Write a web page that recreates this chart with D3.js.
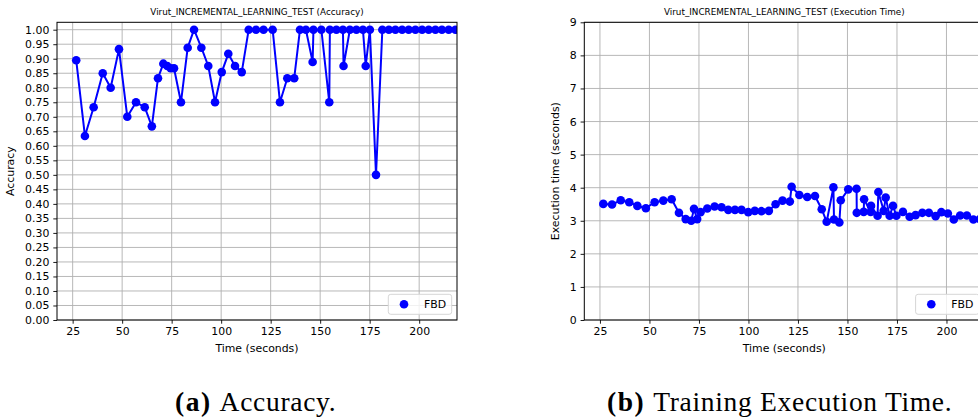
<!DOCTYPE html>
<html>
<head>
<meta charset="utf-8">
<script src="https://cdn.jsdelivr.net/npm/d3@7"></script>
<style>
  body { margin: 0; background: #fff; }
  svg { display: block; }
</style>
</head>
<body>
<svg id="fig" width="978" height="419"></svg>
<script>
// ---- data ----
const accTime = [26.8, 31.2, 35.6, 40.2, 44.2, 48.4, 52.6, 57.0, 61.4, 65.0,
  68.1, 70.8, 72.8, 74.5, 76.2, 79.7, 83.1, 86.3, 90.0, 93.5,
  96.9, 100.3, 103.6, 107.0, 110.4, 113.9, 117.6, 121.4, 126.0, 129.7,
  133.4, 136.9, 139.8, 142.8, 146.2, 146.6, 150.6, 154.6, 154.9, 158.2,
  161.5, 161.8, 165.0, 168.3, 171.6, 173.0, 175.1, 178.2, 181.4, 184.7,
  188.0, 191.4, 194.7, 198.1, 201.5, 204.8, 208.2, 211.5, 214.9, 218.3, 221.6];
const accValue = [0.895, 0.634, 0.733, 0.850, 0.800, 0.933, 0.700, 0.750, 0.733, 0.667,
  0.833, 0.883, 0.875, 0.867, 0.867, 0.750, 0.938, 1.000, 0.938, 0.875,
  0.750, 0.854, 0.917, 0.875, 0.854, 1.000, 1.000, 1.000, 1.000, 0.750,
  0.833, 0.833, 1.000, 1.000, 0.889, 1.000, 1.000, 0.750, 1.000, 1.000,
  1.000, 0.875, 1.000, 1.000, 1.000, 0.875, 1.000, 0.500, 1.000, 1.000,
  1.000, 1.000, 1.000, 1.000, 1.000, 1.000, 1.000, 1.000, 1.000, 1.000, 1.000];

const execTime = [26.7, 31.1, 35.5, 39.8, 43.9, 48.2, 52.6, 57.0, 61.2, 64.9,
  68.3, 71.1, 72.5, 74.1, 75.8, 79.2, 82.9, 86.4, 89.8, 93.2,
  96.5, 99.9, 103.2, 106.6, 110.3, 113.7, 117.2, 120.9, 121.8, 125.7,
  129.7, 133.6, 137.0, 139.5, 142.9, 143.2, 145.9, 146.6, 150.4, 154.6,
  154.7, 158.2, 158.4, 161.7, 161.9, 165.2, 165.6, 168.3, 169.3, 171.3,
  173.0, 174.7, 178.0, 181.4, 184.4, 187.8, 191.1, 194.5, 197.4, 200.7,
  203.7, 206.9, 210.3, 213.6, 216.9, 220.0];
const execValue = [3.51, 3.49, 3.62, 3.56, 3.45, 3.38, 3.56, 3.61, 3.65, 3.24,
  3.05, 3.00, 3.36, 3.05, 3.26, 3.37, 3.43, 3.41, 3.33, 3.33,
  3.33, 3.26, 3.30, 3.29, 3.30, 3.50, 3.61, 3.58, 4.03, 3.78,
  3.72, 3.75, 3.35, 2.97, 4.01, 3.04, 2.95, 3.62, 3.95, 3.97,
  3.24, 3.27, 3.65, 3.27, 3.45, 3.15, 3.87, 3.30, 3.70, 3.15,
  3.45, 3.15, 3.27, 3.12, 3.17, 3.24, 3.24, 3.14, 3.26, 3.22,
  3.04, 3.16, 3.16, 3.04, 3.05, 3.10];

const timeTicks = [25, 50, 75, 100, 125, 150, 175, 200];
const accTicks = [0.00, 0.05, 0.10, 0.15, 0.20, 0.25, 0.30, 0.35, 0.40, 0.45, 0.50,
  0.55, 0.60, 0.65, 0.70, 0.75, 0.80, 0.85, 0.90, 0.95, 1.00];
const execTicks = [0, 1, 2, 3, 4, 5, 6, 7, 8, 9];

const seriesName = "FBD";
const FONT = "'DejaVu Sans', sans-serif";
const BLUE = "#0000ff";

const svg = d3.select("#fig");

function panel(opts) {
  const { id, left, top, width, height, xDomain, yDomain, yTicks, yFormat,
          title, yLabel, times, values } = opts;
  const g = svg.append("g").attr("transform", `translate(${left},${top})`);

  const x = d3.scaleLinear().domain(xDomain).range([0, width]);
  const y = d3.scaleLinear().domain(yDomain).range([height, 0]);

  // grid
  g.append("g").selectAll("line").data(timeTicks).join("line")
    .attr("x1", d => x(d)).attr("x2", d => x(d))
    .attr("y1", 0).attr("y2", height)
    .attr("stroke", "#b0b0b0").attr("stroke-width", 0.9);
  g.append("g").selectAll("line").data(yTicks).join("line")
    .attr("x1", 0).attr("x2", width)
    .attr("y1", d => y(d)).attr("y2", d => y(d))
    .attr("stroke", "#b0b0b0").attr("stroke-width", 0.9);

  // axes
  const xAxis = g.append("g").attr("transform", `translate(0,${height})`)
    .call(d3.axisBottom(x).tickValues(timeTicks).tickSize(3.7).tickPadding(4).tickSizeOuter(0));
  const yAxis = g.append("g")
    .call(d3.axisLeft(y).tickValues(yTicks).tickFormat(yFormat).tickSize(3.7).tickPadding(4).tickSizeOuter(0));
  [xAxis, yAxis].forEach(a => {
    a.select(".domain").remove();
    a.selectAll("line").attr("stroke", "#000").attr("stroke-width", 0.9);
    a.selectAll("text").attr("font-family", FONT).attr("font-size", 10.9).attr("fill", "#000");
  });

  // data, clipped to the plotting area
  g.append("clipPath").attr("id", id).append("rect")
    .attr("width", width).attr("height", height);
  const pts = times.map((t, i) => [t, values[i]]);
  const data = g.append("g").attr("clip-path", `url(#${id})`);
  data.append("path").datum(pts)
    .attr("d", d3.line().x(d => x(d[0])).y(d => y(d[1])))
    .attr("fill", "none").attr("stroke", BLUE).attr("stroke-width", 2)
    .attr("stroke-linejoin", "round");
  data.selectAll("circle").data(pts).join("circle")
    .attr("cx", d => x(d[0])).attr("cy", d => y(d[1])).attr("r", 4.3)
    .attr("fill", BLUE);

  // frame
  g.append("rect").attr("width", width).attr("height", height)
    .attr("fill", "none").attr("stroke", "#000").attr("stroke-width", 1);

  // title and labels
  g.append("text").attr("x", width / 2).attr("y", -7.5)
    .attr("text-anchor", "middle").attr("font-family", FONT).attr("font-size", 8.8)
    .text(title);
  g.append("text").attr("x", width / 2).attr("y", height + 32)
    .attr("text-anchor", "middle").attr("font-family", FONT).attr("font-size", 10.9)
    .text("Time (seconds)");
  g.append("text")
    .attr("transform", `translate(${opts.yLabelX},${height / 2}) rotate(-90)`)
    .attr("text-anchor", "middle").attr("font-family", FONT).attr("font-size", 10.9)
    .text(yLabel);

  // legend
  const lg = g.append("g").attr("transform", `translate(${width - 68.7},${height - 25.7})`);
  lg.append("rect").attr("width", 63.4).attr("height", 20).attr("rx", 2.5)
    .attr("fill", "#fff").attr("fill-opacity", 0.8)
    .attr("stroke", "#d6d6d6").attr("stroke-width", 1);
  lg.append("circle").attr("cx", 15.7).attr("cy", 10).attr("r", 4.3).attr("fill", BLUE);
  lg.append("text").attr("x", 35.7).attr("y", 14).attr("font-family", FONT)
    .attr("font-size", 10.9).text(seriesName);
}

const xDomain = [17.1, 219.1];

panel({
  id: "clipAcc", left: 57, top: 22.3, width: 400, height: 297.7,
  xDomain, yDomain: [0, 1.0255], yTicks: accTicks, yFormat: d3.format(".2f"),
  title: "Virut_INCREMENTAL_LEARNING_TEST (Accuracy)", yLabel: "Accuracy", yLabelX: -43,
  times: accTime, values: accValue
});

panel({
  id: "clipExec", left: 584.3, top: 22.3, width: 400, height: 297.7,
  xDomain, yDomain: [0, 9], yTicks: execTicks, yFormat: d3.format("d"),
  title: "Virut_INCREMENTAL_LEARNING_TEST (Execution Time)", yLabel: "Execution time (seconds)", yLabelX: -25,
  times: execTime, values: execValue
});

// sub-figure captions
const captions = [
  { tag: "(a)", text: "Accuracy.", x: 175 },
  { tag: "(b)", text: "Training Execution Time.", x: 607 }
];
captions.forEach(c => {
  const t = svg.append("text").attr("x", c.x).attr("y", 411)
    .attr("font-family", "'Liberation Serif', 'DejaVu Serif', serif").attr("font-size", 27.5)
    .attr("fill", "#000");
  t.append("tspan").attr("font-weight", "bold").attr("letter-spacing", 1.5).text(c.tag);
  t.append("tspan").attr("dx", 8).attr("letter-spacing", 0.7).text(c.text);
});
</script>
</body>
</html>
